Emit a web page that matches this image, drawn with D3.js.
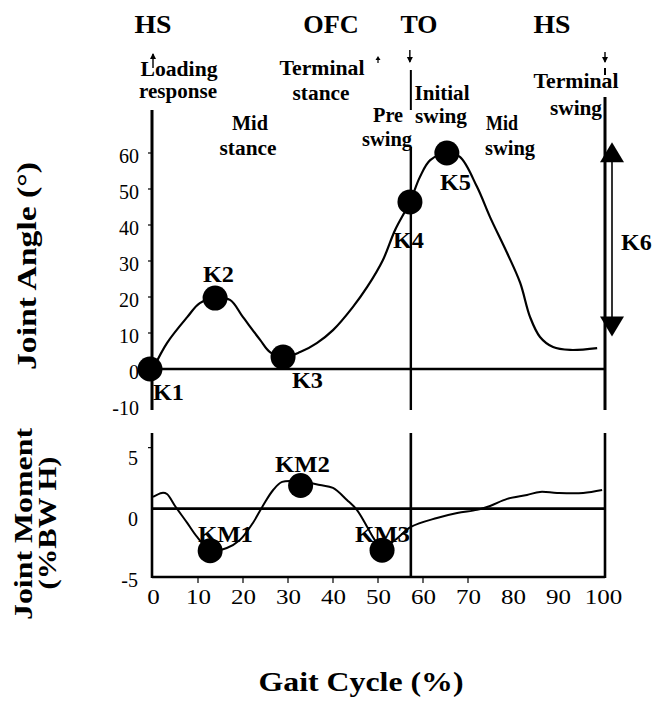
<!DOCTYPE html>
<html>
<head>
<meta charset="utf-8">
<script src="https://cdn.jsdelivr.net/npm/d3@7"></script>
<style>
  body { margin: 0; background: #fff; }
  svg { display: block; }
  text { font-family: "Liberation Serif", "Times New Roman", serif; fill: #000; }
</style>
</head>
<body>
<svg id="chart" width="657" height="701"></svg>
<script>
// ---- Knee angle over the gait cycle (% cycle, degrees) ----
const angleCycle = [0, 3.1, 7.6, 10.4, 13.8, 17.1, 20, 23.8, 26, 28.9, 32.7, 36.4, 40, 44.4, 47.6,
                    51.1, 53.8, 57.1, 59.3, 61.6, 65.3, 68.2, 72, 74.9, 78.7, 81.6, 83.8, 86, 88.9, 92.7, 98.7];
const angleDeg   = [0, 7.2, 14.4, 18.3, 19.7, 19.2, 14.4, 8.1, 4.7, 3.3, 4.7, 7.2, 10.8, 17.2, 22.8,
                    30.3, 38.6, 46.4, 53.3, 58, 60, 58.9, 50.6, 42.2, 32.2, 23.9, 14.4, 8.9, 6.1, 5.3, 5.8];

// ---- Knee moment over the gait cycle (% cycle, %BW·H) ----
const momentCycle = [0, 2, 3.1, 4.9, 7.6, 9.8, 12.7, 16.4, 19.3, 22.2, 24.4, 26.7, 28.7, 33.1, 37.1, 40,
                     43.1, 45.3, 47.6, 49.3, 51, 53.8, 57.3, 63.1, 67.6, 72, 74.9, 78.7, 83.1, 86, 89.8, 95.6, 99.8];
const momentVal   = [0.96, 1.29, 1.2, 0.22, -1.17, -2.32, -3.4, -3.22, -2.57, -1.17, 0.22, 1.53, 2.19, 2.2, 1.94, 1.7,
                     0.71, -0.1, -1.5, -2.57, -3.2, -2.57, -1.5, -0.76, -0.35, -0.1, 0.22, 0.8, 1.12, 1.37, 1.29, 1.29, 1.53];

// ---- Key points ----
const angleKeys      = ["K1", "K2", "K3", "K4", "K5"];
const angleKeyCycle  = [0, 13.8, 28.9, 57.1, 65.3];
const angleKeyDeg    = [0, 19.7, 3.3, 46.4, 60];
const k6Range        = [9, 63];          // swing flexion excursion (deg)

const momentKeys     = ["KM1", "KM2", "KM3"];
const momentKeyCycle = [12.7, 32.8, 50.9];
const momentKeyVal   = [-3.45, 1.9, -3.4];

// ---- Gait events (% cycle) and axis ticks ----
const eventNames   = ["HS", "OFC", "TO", "HS"];
const eventCycle   = [0, 50, 57.3, 100];
const xTicks       = [0, 10, 20, 30, 40, 50, 60, 70, 80, 90, 100];
const angleTicks   = [60, 50, 40, 30, 20, 10, 0, -10];
const momentTicks  = [5, 0, -5];

const svg = d3.select("#chart");
svg.append("rect").attr("width", 657).attr("height", 701).attr("fill", "#fff");

const x  = d3.scaleLinear().domain([0, 100]).range([153, 603]);
const yA = d3.scaleLinear().domain([-10, 60]).range([405, 153]);
const yM = d3.scaleLinear().domain([-5.6, 6.2]).range([577, 433]);

const SERIF = '"Liberation Serif", "Times New Roman", serif';
const LW = 2.6;
const plainNum = d => String(d);   // hyphen-minus, as typeset on the axes

// ---------- text: events and phase names ----------
const eventLabelX = [153, 331, 419, 552];
svg.selectAll("text.event").data(eventNames).join("text")
  .attr("class", "event")
  .attr("x", (d, i) => eventLabelX[i]).attr("y", 33)
  .attr("text-anchor", "middle").attr("font-size", 26).attr("font-weight", "bold")
  .attr("textLength", d => d.length * 18.5).attr("lengthAdjust", "spacingAndGlyphs")
  .text(d => d);

const phases = [
  { t: "Loading",  x: 179, y: 76,  w: 77 },
  { t: "response", x: 178, y: 98,  w: 78 },
  { t: "Mid",      x: 250, y: 130, w: 36 },
  { t: "stance",   x: 248, y: 155, w: 57 },
  { t: "Terminal", x: 322, y: 75,  w: 85 },
  { t: "stance",   x: 321, y: 100, w: 57 },
  { t: "Pre",      x: 388, y: 122, w: 30 },
  { t: "swing",    x: 387, y: 146, w: 50 },
  { t: "Initial",  x: 442, y: 100, w: 55 },
  { t: "swing",    x: 441, y: 123, w: 52 },
  { t: "Mid",      x: 502, y: 130, w: 32 },
  { t: "swing",    x: 510, y: 155, w: 50 },
  { t: "Terminal", x: 576, y: 88,  w: 85 },
  { t: "swing",    x: 576, y: 115, w: 52 }
];
svg.selectAll("text.phase").data(phases).join("text")
  .attr("class", "phase")
  .attr("x", d => d.x).attr("y", d => d.y)
  .attr("text-anchor", "middle").attr("font-size", 20).attr("font-weight", "bold")
  .attr("textLength", d => d.w).attr("lengthAdjust", "spacingAndGlyphs")
  .text(d => d.t);

// small event arrows above the phases
function smallArrow(cx, yTail, yHead) {
  const dir = yHead < yTail ? -1 : 1;
  svg.append("line").attr("x1", cx).attr("x2", cx).attr("y1", yTail).attr("y2", yHead)
    .attr("stroke", "#000").attr("stroke-width", 1.4);
  svg.append("path")
    .attr("d", `M${cx - 3},${yHead - dir * 5} L${cx + 3},${yHead - dir * 5} L${cx},${yHead + dir * 1} Z`)
    .attr("fill", "#000");
}
smallArrow(x(eventCycle[0]), 68, 54);
smallArrow(x(eventCycle[2]) - 1, 50, 62);
smallArrow(x(eventCycle[3]) + 2, 52, 62);
svg.append("path").attr("d", `M${x(eventCycle[1]) - 2.5},60 L${x(eventCycle[1]) + 2.5},60 L${x(eventCycle[1])},56 Z`)
  .attr("fill", "#000");
svg.append("line").attr("x1", x(eventCycle[1])).attr("x2", x(eventCycle[1])).attr("y1", 58).attr("y2", 63)
  .attr("stroke", "#000").attr("stroke-width", 1.2);

// ---------- axis titles ----------
svg.append("text").attr("transform", "translate(36,266) rotate(-90)")
  .attr("text-anchor", "middle").attr("font-size", 27).attr("font-weight", "bold")
  .attr("textLength", 208).attr("lengthAdjust", "spacingAndGlyphs")
  .text("Joint Angle (°)");
svg.append("text").attr("transform", "translate(32,524) rotate(-90)")
  .attr("text-anchor", "middle").attr("font-size", 26).attr("font-weight", "bold")
  .attr("textLength", 192).attr("lengthAdjust", "spacingAndGlyphs")
  .text("Joint Moment");
svg.append("text").attr("transform", "translate(56,523) rotate(-90)")
  .attr("text-anchor", "middle").attr("font-size", 25).attr("font-weight", "bold")
  .attr("textLength", 133).attr("lengthAdjust", "spacingAndGlyphs")
  .text("(%BW H)");
svg.append("text").attr("x", 361).attr("y", 691)
  .attr("text-anchor", "middle").attr("font-size", 27).attr("font-weight", "bold")
  .attr("textLength", 205).attr("lengthAdjust", "spacingAndGlyphs")
  .text("Gait Cycle (%)");

// ---------- tick labels ----------
const axA = svg.append("g").attr("transform", "translate(152,0)")
  .call(d3.axisLeft(yA).tickValues(angleTicks).tickSize(0).tickPadding(13).tickFormat(plainNum));
axA.select(".domain").remove();
axA.selectAll("text").attr("font-family", SERIF).attr("font-size", 20).attr("fill", "#000")
  .attr("transform", "translate(0,3)");

const axM = svg.append("g").attr("transform", "translate(152,0)")
  .call(d3.axisLeft(yM).tickValues(momentTicks).tickSize(0).tickPadding(14).tickFormat(plainNum));
axM.select(".domain").remove();
axM.selectAll("text").attr("font-family", SERIF).attr("font-size", 20).attr("fill", "#000")
  .attr("transform", "translate(0,10)");

const axX = svg.append("g").attr("transform", "translate(0,577)")
  .call(d3.axisBottom(x).tickValues(xTicks).tickSize(0).tickPadding(13).tickFormat(plainNum));
axX.select(".domain").remove();
axX.selectAll("text").attr("font-family", SERIF).attr("font-size", 20).attr("fill", "#000")
  .attr("textLength", d => String(d).length * 12.5).attr("lengthAdjust", "spacingAndGlyphs");

// ---------- key point labels ----------
const angleLabelPos = [[153, 400], [203, 282], [292, 388], [393, 248], [440, 190]];
svg.selectAll("text.klab").data(angleKeys).join("text")
  .attr("class", "klab")
  .attr("x", (d, i) => angleLabelPos[i][0]).attr("y", (d, i) => angleLabelPos[i][1])
  .attr("font-size", 24).attr("font-weight", "bold")
  .attr("textLength", 31).attr("lengthAdjust", "spacingAndGlyphs")
  .text(d => d);
svg.append("text").attr("x", 621).attr("y", 250)
  .attr("font-size", 24).attr("font-weight", "bold").text("K6");

const momentLabelPos = [[198, 542], [275, 472], [355, 542]];
svg.selectAll("text.kmlab").data(momentKeys).join("text")
  .attr("class", "kmlab")
  .attr("x", (d, i) => momentLabelPos[i][0]).attr("y", (d, i) => momentLabelPos[i][1])
  .attr("font-size", 24).attr("font-weight", "bold")
  .attr("textLength", 55).attr("lengthAdjust", "spacingAndGlyphs")
  .text(d => d);

// ---------- frame lines ----------
const frame = svg.append("g").attr("stroke", "#000").attr("stroke-width", LW).attr("fill", "none");
function vline(px, y1, y2, w) {
  frame.append("line").attr("x1", px).attr("x2", px).attr("y1", y1).attr("y2", y2)
    .attr("stroke-width", w || LW);
}
function hline(py, x1, x2, w) {
  frame.append("line").attr("x1", x1).attr("x2", x2).attr("y1", py).attr("y2", py)
    .attr("stroke-width", w || LW);
}
// upper panel (angle)
vline(x(0) - 1, 110, 410, 3);
vline(x(eventCycle[2]), 70, 110, 2);
vline(x(eventCycle[2]), 147, 410, 2.4);
vline(x(100) + 2, 68, 75, 2);
vline(x(100) + 2, 97, 410, 3);
hline(yA(0), x(0) - 1, x(100) + 2, 2.4);
// small ticks on the angle axis
angleTicks.filter(v => v > 0).forEach(v => hline(yA(v), x(0) - 5, x(0) - 1, 1.2));

// lower panel (moment)
vline(x(0) - 1, 433, 578, 2.6);
vline(x(eventCycle[2]), 433, 578, 2.6);
vline(x(100) + 2, 433, 578, 2.6);
hline(577, x(0) - 1, x(100) + 2, 2.6);
hline(yM(0), x(0) - 1, x(100) + 2, 2.6);
[5].forEach(v => hline(yM(v), x(0) - 5, x(0) - 1, 1.2));
xTicks.filter(v => v > 0 && v < 80).forEach(v => vline(x(v), 577, 583, 1.2));

// ---------- curves ----------
const line = d3.line().curve(d3.curveCatmullRom.alpha(0.5));
svg.append("path")
  .attr("d", line(angleCycle.map((c, i) => [x(c), yA(angleDeg[i])])))
  .attr("fill", "none").attr("stroke", "#000").attr("stroke-width", 2.2);
svg.append("path")
  .attr("d", line(momentCycle.map((c, i) => [x(c), yM(momentVal[i])])))
  .attr("fill", "none").attr("stroke", "#000").attr("stroke-width", 2);

// ---------- key point markers ----------
svg.selectAll("circle.k").data(angleKeys).join("circle")
  .attr("class", "k")
  .attr("cx", (d, i) => x(angleKeyCycle[i]) - (i === 0 ? 3 : 0))
  .attr("cy", (d, i) => yA(angleKeyDeg[i]))
  .attr("r", 12.5).attr("fill", "#000");
svg.selectAll("circle.km").data(momentKeys).join("circle")
  .attr("class", "km")
  .attr("cx", (d, i) => x(momentKeyCycle[i]))
  .attr("cy", (d, i) => yM(momentKeyVal[i]))
  .attr("r", 12.5).attr("fill", "#000");

// ---------- K6 double arrow ----------
const ax6 = 612;
const yTop6 = yA(k6Range[1]), yBot6 = yA(k6Range[0]);
svg.append("line").attr("x1", ax6).attr("x2", ax6).attr("y1", yTop6 + 18).attr("y2", yBot6 - 18)
  .attr("stroke", "#000").attr("stroke-width", 1.6);
svg.append("path").attr("d", `M${ax6},${yTop6} L${ax6 + 12},${yTop6 + 20} L${ax6 - 12},${yTop6 + 20} Z`).attr("fill", "#000");
svg.append("path").attr("d", `M${ax6},${yBot6} L${ax6 + 12},${yBot6 - 20} L${ax6 - 12},${yBot6 - 20} Z`).attr("fill", "#000");
</script>
</body>
</html>
